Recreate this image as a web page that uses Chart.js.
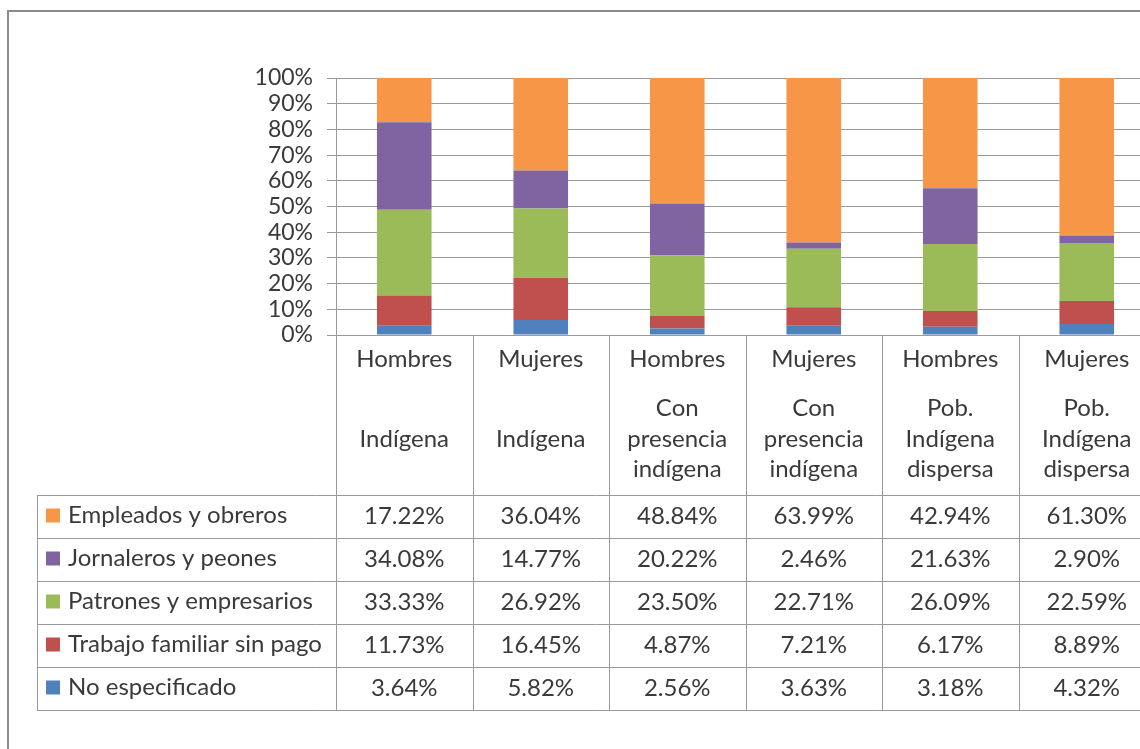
<!DOCTYPE html>
<html>
<head>
<meta charset="utf-8">
<script src="https://cdn.jsdelivr.net/npm/chart.js@4"></script>
<style>
  body { margin: 0; overflow: hidden; background: #fff; }
</style>
</head>
<body>
<canvas id="myChart" width="1156" height="749"></canvas>
<script>
// categories: first header line and second header block
var sexLabels = ["Hombres", "Mujeres", "Hombres", "Mujeres", "Hombres", "Mujeres"];
var groupLabels = [
  ["Indígena"],
  ["Indígena"],
  ["Con", "presencia", "indígena"],
  ["Con", "presencia", "indígena"],
  ["Pob.", "Indígena", "dispersa"],
  ["Pob.", "Indígena", "dispersa"]
];

// series values (percent)
var noEspecificado = [3.64, 5.82, 2.56, 3.63, 3.18, 4.32];
var trabajoFamiliar = [11.73, 16.45, 4.87, 7.21, 6.17, 8.89];
var patrones = [33.33, 26.92, 23.50, 22.71, 26.09, 22.59];
var jornaleros = [34.08, 14.77, 20.22, 2.46, 21.63, 2.90];
var empleados = [17.22, 36.04, 48.84, 63.99, 42.94, 61.30];

var seriesNames = ["No especificado", "Trabajo familiar sin pago", "Patrones y empresarios", "Jornaleros y peones", "Empleados y obreros"];
var seriesData = [noEspecificado, trabajoFamiliar, patrones, jornaleros, empleados];
var seriesColors = ["#4F81BD", "#C0504D", "#9BBB59", "#8064A2", "#F79646"];

var fontFamily = "Lato, 'Open Sans', sans-serif";
var textColor = "#3a3a3a";
var lineColor = "#9a9a9a";

var datasets = seriesNames.map(function(name, i) {
  return {
    label: name,
    data: seriesData[i],
    backgroundColor: seriesColors[i],
    borderWidth: 0,
    barPercentage: 0.4,
    categoryPercentage: 1.0
  };
});

// draws the outer frame and the data table under the bars
var tablePlugin = {
  id: "dataTable",
  beforeDraw: function(chart) {
    var c = chart.ctx;
    c.save();
    c.fillStyle = "#fff";
    c.fillRect(0, 0, chart.width, chart.height);
    c.strokeStyle = "#8a8a8a";
    c.lineWidth = 2;
    c.strokeRect(8, 11, 2000, 2000);
    c.restore();
  },
  afterDraw: function(chart) {
    var c = chart.ctx;
    var xs = chart.scales.x;
    var area = chart.chartArea;
    var n = sexLabels.length;
    var colW = (area.right - area.left) / n;
    var top = area.bottom;
    var headBottom = 495;
    var rowH = 43;
    var legendLeft = 37;
    var tableBottom = headBottom + rowH * seriesNames.length;

    c.save();
    c.strokeStyle = lineColor;
    c.lineWidth = 1;
    c.beginPath();
    // vertical lines
    for (var i = 0; i <= n; i++) {
      var vx = Math.round(area.left + i * colW) + 0.5;
      c.moveTo(vx, top);
      c.lineTo(vx, tableBottom);
    }
    c.moveTo(legendLeft + 0.5, headBottom);
    c.lineTo(legendLeft + 0.5, tableBottom);
    // horizontal lines
    for (var r = 0; r <= seriesNames.length; r++) {
      var hy = headBottom + r * rowH + 0.5;
      c.moveTo(legendLeft, hy);
      c.lineTo(chart.width, hy);
    }
    c.stroke();

    c.fillStyle = textColor;
    c.font = "24px " + fontFamily;
    c.textAlign = "center";
    c.textBaseline = "middle";
    for (var j = 0; j < n; j++) {
      var cx = xs.getPixelForValue(j);
      c.fillText(sexLabels[j], cx, 359);
      var lines = groupLabels[j];
      var lh = 30.5;
      var startY = 439 - (lines.length - 1) * lh / 2;
      for (var k = 0; k < lines.length; k++) {
        c.fillText(lines[k], cx, startY + k * lh);
      }
    }

    // rows, top row is the last dataset
    for (var r2 = 0; r2 < seriesNames.length; r2++) {
      var s = seriesNames.length - 1 - r2;
      var cy = headBottom + r2 * rowH + rowH / 2 - 1;
      c.fillStyle = seriesColors[s];
      c.fillRect(46, cy - 7, 14, 14);
      c.fillStyle = textColor;
      c.textAlign = "left";
      c.fillText(seriesNames[s], 68, cy);
      c.textAlign = "center";
      for (var j2 = 0; j2 < n; j2++) {
        c.fillText(seriesData[s][j2].toFixed(2) + "%", xs.getPixelForValue(j2), cy + 1);
      }
    }
    c.restore();
  }
};

var ctx = document.getElementById("myChart");
var myChart = new Chart(ctx, {
  type: "bar",
  data: {
    labels: sexLabels,
    datasets: datasets
  },
  options: {
    responsive: false,
    devicePixelRatio: 1,
    animation: false,
    layout: {
      padding: { top: 78, bottom: 414, left: 0, right: 1 }
    },
    plugins: {
      legend: { display: false },
      tooltip: { enabled: false }
    },
    scales: {
      x: {
        display: false,
        stacked: true
      },
      y: {
        stacked: true,
        min: 0,
        max: 100,
        ticks: {
          stepSize: 10,
          autoSkip: false,
          color: textColor,
          padding: 14,
          font: { family: fontFamily, size: 23 },
          callback: function(v) { return v + "%"; }
        },
        grid: {
          color: lineColor,
          lineWidth: 1,
          tickLength: 9
        },
        border: { color: lineColor, width: 1 },
        afterFit: function(scale) { scale.width = 336; }
      }
    }
  },
  plugins: [tablePlugin]
}); // end of bar chart
</script>
</body>
</html>
